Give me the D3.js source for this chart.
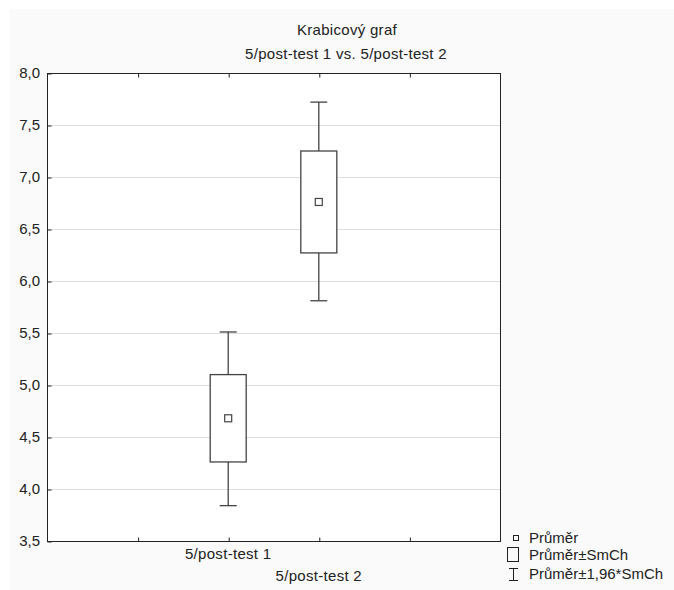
<!DOCTYPE html>
<html>
<head>
<meta charset="utf-8">
<script src="https://cdn.jsdelivr.net/npm/d3@7"></script>
<style>
	body { margin: 0; background: #fff; }
	text { font-family: "Liberation Sans", Arial, sans-serif; fill: #222; font-size: 15px; }
</style>
</head>
<body>
<div id="chart"></div>
<script>
// data
const categories = ['5/post-test 1', '5/post-test 2'];
const means = [4.68, 6.76];
const boxLow = [4.26, 6.27];
const boxHigh = [5.10, 7.25];
const whiskerLow = [3.84, 5.81];
const whiskerHigh = [5.51, 7.72];
const yTicks = [3.5, 4.0, 4.5, 5.0, 5.5, 6.0, 6.5, 7.0, 7.5, 8.0];
const legendLabels = ['Průměr', 'Průměr±SmCh', 'Průměr±1,96*SmCh'];

const width = 674, height = 590;
const plot = {left: 47, right: 500, top: 73, bottom: 541};

const svg = d3.select('#chart').append('svg')
	.attr('width', width)
	.attr('height', height);

// light outer panel
svg.append('rect')
	.attr('x', 10).attr('y', 9)
	.attr('width', width - 10).attr('height', height - 9)
	.attr('fill', '#fafafa');

const x = d3.scaleLinear().domain([0, 5]).range([plot.left, plot.right]);
const y = d3.scaleLinear().domain([3.5, 8.0]).range([plot.bottom, plot.top]);
// categories sit at the 2nd and 3rd of four inner ticks
const catPos = i => x(i + 2);

svg.append('rect')
	.attr('x', plot.left).attr('y', plot.top)
	.attr('width', plot.right - plot.left).attr('height', plot.bottom - plot.top)
	.attr('fill', '#fff');

// gridlines
svg.append('g')
	.selectAll('line')
	.data(yTicks.slice(1, -1))
	.join('line')
	.attr('x1', plot.left).attr('x2', plot.right)
	.attr('y1', d => y(d) + 0.5).attr('y2', d => y(d) + 0.5)
	.attr('stroke', '#dedede');

const fmt = d => d3.format('.1f')(d).replace('.', ',');

// y axis: ticks point inward
const axisY = d3.axisRight(y).tickValues(yTicks).tickSize(4).tickFormat('');
svg.append('g')
	.attr('transform', `translate(${plot.left + 0.5},0.5)`)
	.call(axisY)
	.call(g => g.select('.domain').remove())
	.selectAll('line').attr('stroke', '#222');

svg.append('g')
	.selectAll('text')
	.data(yTicks)
	.join('text')
	.attr('x', plot.left - 7)
	.attr('y', d => y(d) + 5)
	.attr('text-anchor', 'end')
	.text(fmt);

// x ticks top and bottom, inward
const xTickVals = [1, 2, 3, 4];
const axisTop = d3.axisBottom(x).tickValues(xTickVals).tickSize(4).tickFormat('');
svg.append('g')
	.attr('transform', `translate(0.5,${plot.top + 0.5})`)
	.call(axisTop)
	.call(g => g.select('.domain').remove())
	.selectAll('line').attr('stroke', '#222');
const axisBottom = d3.axisTop(x).tickValues(xTickVals).tickSize(4).tickFormat('');
svg.append('g')
	.attr('transform', `translate(0.5,${plot.bottom + 0.5})`)
	.call(axisBottom)
	.call(g => g.select('.domain').remove())
	.selectAll('line').attr('stroke', '#222');

// frame
svg.append('rect')
	.attr('x', plot.left + 0.5).attr('y', plot.top + 0.5)
	.attr('width', plot.right - plot.left).attr('height', plot.bottom - plot.top)
	.attr('fill', 'none')
	.attr('stroke', '#222');

// category labels, staggered
svg.append('g')
	.selectAll('text')
	.data(categories)
	.join('text')
	.attr('x', (d, i) => catPos(i))
	.attr('y', (d, i) => 559 + i * 22)
	.attr('text-anchor', 'middle')
	.attr('letter-spacing', 0.3)
	.text(d => d);

// boxes
const boxW = 36, capW = 17, meanW = 7;
const stroke = '#444';
const groups = svg.append('g')
	.selectAll('g')
	.data(categories)
	.join('g')
	.attr('transform', (d, i) => `translate(${catPos(i)},0)`);

groups.append('line')
	.attr('x1', 0).attr('x2', 0)
	.attr('y1', (d, i) => y(whiskerHigh[i])).attr('y2', (d, i) => y(whiskerLow[i]))
	.attr('stroke', stroke).attr('stroke-width', 1.3);
groups.append('line')
	.attr('x1', -capW / 2).attr('x2', capW / 2)
	.attr('y1', (d, i) => y(whiskerHigh[i])).attr('y2', (d, i) => y(whiskerHigh[i]))
	.attr('stroke', stroke).attr('stroke-width', 1.3);
groups.append('line')
	.attr('x1', -capW / 2).attr('x2', capW / 2)
	.attr('y1', (d, i) => y(whiskerLow[i])).attr('y2', (d, i) => y(whiskerLow[i]))
	.attr('stroke', stroke).attr('stroke-width', 1.3);
groups.append('rect')
	.attr('x', -boxW / 2)
	.attr('y', (d, i) => y(boxHigh[i]))
	.attr('width', boxW)
	.attr('height', (d, i) => y(boxLow[i]) - y(boxHigh[i]))
	.attr('fill', '#fff')
	.attr('stroke', stroke).attr('stroke-width', 1.3);
groups.append('rect')
	.attr('x', -meanW / 2)
	.attr('y', (d, i) => y(means[i]) - meanW / 2)
	.attr('width', meanW).attr('height', meanW)
	.attr('fill', '#fff')
	.attr('stroke', stroke).attr('stroke-width', 1.2);

// title
svg.append('text')
	.attr('x', 347).attr('y', 35)
	.attr('text-anchor', 'middle')
	.attr('letter-spacing', 0.3)
	.text('Krabicový graf');
svg.append('text')
	.attr('x', 346).attr('y', 59)
	.attr('text-anchor', 'middle')
	.attr('letter-spacing', 0.3)
	.text('5/post-test 1 vs. 5/post-test 2');

// legend
const legend = svg.append('g');
const rowY = [538, 555, 574];
legend.append('rect')
	.attr('x', 513.5).attr('y', rowY[0] - 2.5)
	.attr('width', 5).attr('height', 5)
	.attr('fill', 'none').attr('stroke', '#222');
legend.append('rect')
	.attr('x', 507.5).attr('y', rowY[1] - 7.5)
	.attr('width', 11).attr('height', 14)
	.attr('fill', 'none').attr('stroke', '#222');
legend.append('path')
	.attr('d', `M509,${rowY[2] - 6}.5H518M513.5,${rowY[2] - 6}V${rowY[2] + 6}M509,${rowY[2] + 6}.5H518`)
	.attr('fill', 'none').attr('stroke', '#222');
legend.selectAll('text')
	.data(legendLabels)
	.join('text')
	.attr('x', 529)
	.attr('y', (d, i) => rowY[i] + 5)
	.text(d => d);
</script>
</body>
</html>
